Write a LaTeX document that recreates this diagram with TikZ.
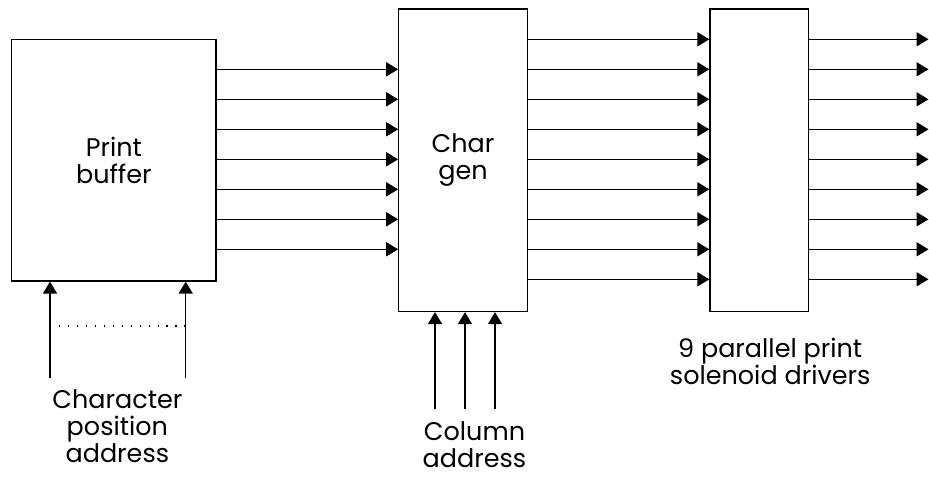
\documentclass[tikz,border=0pt]{standalone}
\usepackage{fontspec}
\setmainfont{Poppins}
\usetikzlibrary{positioning, arrows.meta}

\begin{document}
\begin{tikzpicture}[
    x=0.02cm, y=-0.02cm,
    caixa/.style={draw, line width=0.7pt, inner sep=0pt, align=center, font=\fontsize{14.5}{15.4}\selectfont},
    seta/.style={-{Triangle[length=6.8pt, width=8pt]}, line width=0.7pt},
    rot/.style={inner sep=0pt, align=center, font=\fontsize{14.5}{15.4}\selectfont}
]
\useasboundingbox (0,0) rectangle (929,477);
\node[caixa, minimum width=4.09cm, minimum height=4.83cm] (buffer) at (113.85,160.3) {Print\\buffer};
\node[caixa, minimum width=2.57cm, minimum height=6.05cm, right=3.63cm of buffer] (gerador) {Char\\gen};
\node[caixa, minimum width=1.97cm, minimum height=6.05cm, right=3.63cm of gerador] (drivers) {};
\coordinate (borda) at (928.5,0);
% ligacoes entre os blocos
\foreach \k [evaluate=\k as \yy using 69.3+30*\k] in {0,...,6}
    \draw[seta] (buffer.east |- 0,\yy) -- (gerador.west |- 0,\yy);
\foreach \k [evaluate=\k as \yy using 39.3+30*\k] in {0,...,8} {
    \draw[seta] (gerador.east |- 0,\yy) -- (drivers.west |- 0,\yy);
    \draw[seta] (drivers.east |- 0,\yy) -- (borda |- 0,\yy);
}
% enderecos
\coordinate (e1) at (50,378);
\coordinate (e2) at (185.7,378);
\draw[seta] (e1) -- (e1 |- buffer.south);
\draw[seta] (e2) -- (e2 |- buffer.south);
\draw[line width=0.6pt, dash pattern=on 0.6pt off 4.5pt] (e1 |- 0,326) -- (e2 |- 0,326);
\foreach \x in {435,465,495} {
    \coordinate (c\x) at (\x,409);
    \draw[seta] (c\x) -- (c\x |- gerador.south);
}
\node[rot, below=2.16cm of buffer, xshift=0.07cm] (endcar) {Character\\position\\address};
\node[rot, below=2.18cm of gerador, xshift=0.23cm] (endcol) {Column\\address};
\node[rot, below=0.52cm of drivers, xshift=0.22cm] (rotdrv) {9 parallel print\\solenoid drivers};
\end{tikzpicture}
\end{document}
